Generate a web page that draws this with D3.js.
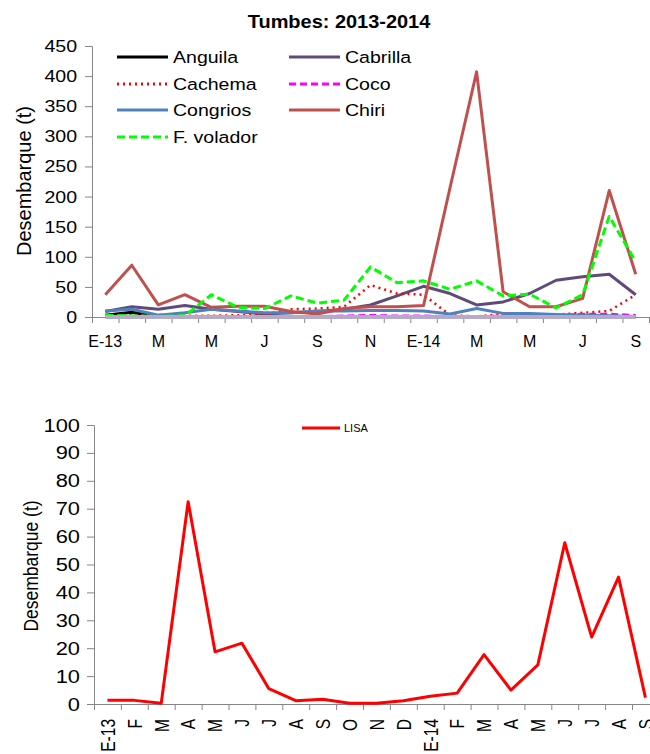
<!DOCTYPE html>
<html>
<head>
<meta charset="utf-8">
<script src="https://cdn.jsdelivr.net/npm/d3@7"></script>
<style>
  body { margin: 0; background: #fff; }
  text { font-family: "Liberation Sans", Arial, sans-serif; fill: #000; }
</style>
</head>
<body>
<script>
// Meses ene-2013 a set-2014
const meses = ["E-13","F","M","A","M","J","J","A","S","O","N","D","E-14","F","M","A","M","J","J","A","S"];

// Desembarque (t) por especie - Tumbes
const anguila  = [3, 8, 1, 0, 0, 0, 0, 0, 0, 0, 0, 0, 0, 0, 0, 0, 0, 0, 0, 0, 0];
const cabrilla = [9, 17, 13, 19, 13, 9, 5, 7, 9, 13, 20, 35, 51, 39, 20, 25, 39, 61, 67, 71, 37];
const cachema  = [3, 3, 4, 2, 2, 3, 4, 13, 14, 17, 53, 39, 37, 3, 1, 5, 4, 4, 7, 10, 37];
const coco     = [1, 1, 1, 1, 1, 1, 1, 1, 1, 2, 3, 2, 2, 1, 1, 2, 2, 3, 5, 5, 3];
const congrios = [10, 13, 3, 7, 13, 10, 7, 7, 10, 10, 11, 11, 10, 5, 14, 6, 6, 4, 3, 2, 1];
const chiri    = [37, 86, 20, 37, 16, 18, 18, 9, 5, 14, 17, 17, 19, 215, 407, 42, 17, 17, 31, 210, 71];
const volador  = [3, 2, 1, 2, 37, 16, 14, 35, 23, 28, 83, 57, 60, 46, 60, 35, 38, 15, 37, 167, 92];
const otros    = [0, 0, 0, 0, 0, 0, 0, 0, 0, 0, 0, 0, 0, 0, 0, 0, 0, 0, 0, 0, 0];

const lisa = [1.3, 1.3, 0.3, 72.5, 18.7, 21.8, 5.5, 1.2, 1.7, 0.3, 0.3, 1.2, 2.8, 3.9, 17.7, 5, 14, 57.8, 24, 45.5, 2.3];

const ticksTop = [0, 50, 100, 150, 200, 250, 300, 350, 400, 450];
const ticksBot = [0, 10, 20, 30, 40, 50, 60, 70, 80, 90, 100];

const series = [
  { name: "Anguila",    values: anguila,  color: "#000000", dash: null,  width: 3 },
  { name: "Cabrilla",   values: cabrilla, color: "#604A7B", dash: null,  width: 3 },
  { name: "Cachema",    values: cachema,  color: "#FF0000", dash: "2,4", width: 2.5 },
  { name: "Coco",       values: coco,     color: "#FF00FF", dash: "7,4", width: 2.5 },
  { name: "Congrios",   values: congrios, color: "#4F81BD", dash: null,  width: 3 },
  { name: "Chiri",      values: chiri,    color: "#C0504D", dash: null,  width: 3 },
  { name: "F. volador", values: volador,  color: "#00FF00", dash: "8,4", width: 3 },
  { name: null,         values: otros,    color: "#B3ABC9", dash: null,  width: 4 }
];

const axisColor = "#868686";

const svg = d3.select("body").append("svg")
    .attr("width", 650)
    .attr("height", 754);

// the source picture is a bit wider than tall, stretch text to match
function stretched(parent, x, y, sx, size) {
  return parent.append("text")
      .attr("transform", "translate(" + x + "," + y + ") scale(" + sx + ",1)")
      .style("font-size", size + "px");
}

// ---------- Top chart ----------
const box1 = { left: 92, right: 649, top: 46, bottom: 317 };
const idx = d3.range(meses.length);

const x1 = d3.scaleBand().domain(idx).range([box1.left, box1.right]).padding(0);
const x1edge = d3.scaleLinear().domain([0, meses.length]).range([box1.left, box1.right]);
const y1 = d3.scaleLinear().domain([0, 450]).range([box1.bottom, box1.top]);

stretched(svg, 339, 28, 1.05, 19)
    .attr("text-anchor", "middle")
    .style("font-weight", "bold")
    .text("Tumbes: 2013-2014");

svg.append("g")
    .attr("transform", "translate(" + box1.left + ",0)")
    .call(d3.axisLeft(y1).tickValues(ticksTop).tickSize(7))
    .selectAll("text")
    .style("font-size", "17px")
    .attr("x", -15 / 1.15)
    .attr("transform", "scale(1.15,1)");

// boundary ticks
svg.append("g")
    .attr("transform", "translate(0," + box1.bottom + ")")
    .call(d3.axisBottom(x1edge).tickValues(d3.range(meses.length + 1)).tickSize(6).tickFormat(""));

// labels every other month
svg.append("g")
    .attr("transform", "translate(0," + box1.bottom + ")")
    .call(d3.axisBottom(x1).tickSize(0).tickPadding(19).tickFormat(i => i % 2 === 0 ? meses[i] : ""))
    .call(g => g.select(".domain").remove())
    .selectAll("text").style("font-size", "16px");

svg.selectAll(".domain, .tick line").attr("stroke", axisColor);

const line1 = d3.line()
    .x((d, i) => x1(i) + x1.bandwidth() / 2)
    .y(d => y1(d));

svg.append("g").selectAll("path")
  .data(series)
  .join("path")
    .attr("fill", "none")
    .attr("stroke", d => d.color)
    .attr("stroke-width", d => d.width)
    .attr("stroke-dasharray", d => d.dash)
    .attr("stroke-linejoin", "round")
    .attr("d", d => line1(d.values));

svg.append("text")
    .attr("transform", "translate(24,181) rotate(-90)")
    .attr("text-anchor", "middle")
    .attr("dominant-baseline", "central")
    .style("font-size", "20px")
    .text("Desembarque (t)");

// legend
const legCols = [117, 289];
const legRows = [57, 84, 110, 137];
const leg = svg.append("g").selectAll("g")
  .data(series.filter(s => s.name))
  .join("g")
    .attr("transform", (d, i) => "translate(" + legCols[i % 2] + "," + legRows[Math.floor(i / 2)] + ")");
leg.append("line")
    .attr("x1", 0).attr("x2", 51)
    .attr("stroke", d => d.color)
    .attr("stroke-width", 3)
    .attr("stroke-dasharray", d => d.dash);
leg.each(function(d) {
  stretched(d3.select(this), 56, 6, 1.15, 17).text(d.name);
});

// ---------- Bottom chart ----------
const box2 = { left: 94, top: 425, bottom: 704, step: 26.9 };

const x2 = d3.scaleBand().domain(idx).range([box2.left, box2.left + box2.step * meses.length]).padding(0);
const x2edge = d3.scaleLinear().domain([0, meses.length]).range([box2.left, box2.left + box2.step * meses.length]);
const y2 = d3.scaleLinear().domain([0, 100]).range([box2.bottom, box2.top]);

svg.append("g")
    .attr("transform", "translate(" + box2.left + ",0)")
    .call(d3.axisLeft(y2).tickValues(ticksBot).tickSize(7))
    .selectAll("text")
    .style("font-size", "19px")
    .attr("x", -14 / 1.15)
    .attr("transform", "scale(1.15,1)");

svg.append("g")
    .attr("transform", "translate(0," + box2.bottom + ")")
    .call(d3.axisBottom(x2edge).tickValues(d3.range(meses.length + 1)).tickSize(6).tickFormat(""));

svg.append("g")
    .attr("transform", "translate(0," + box2.bottom + ")")
    .call(d3.axisBottom(x2).tickSize(0).tickFormat(i => meses[i]))
    .call(g => g.select(".domain").remove())
    .selectAll("text")
    .style("font-size", "15.5px")
    .attr("text-anchor", "end")
    .attr("transform", "scale(1.3,1) rotate(-90)")
    .attr("x", -15)
    .attr("y", 0)
    .attr("dy", "0.36em");

svg.selectAll(".domain, .tick line").attr("stroke", axisColor);

const line2 = d3.line()
    .x((d, i) => x2(i) + x2.bandwidth() / 2)
    .y(d => y2(d));

svg.append("path")
    .datum(lisa)
    .attr("fill", "none")
    .attr("stroke", "#FF0000")
    .attr("stroke-width", 3)
    .attr("stroke-linejoin", "round")
    .attr("d", line2);

svg.append("text")
    .attr("transform", "translate(31,566) rotate(-90) scale(1,1.2)")
    .attr("text-anchor", "middle")
    .attr("dominant-baseline", "central")
    .style("font-size", "17.5px")
    .text("Desembarque (t)");

const leg2 = svg.append("g").attr("transform", "translate(302,428)");
leg2.append("line").attr("x1", 0).attr("x2", 38).attr("stroke", "#FF0000").attr("stroke-width", 3);
leg2.append("text").attr("x", 42).attr("dy", "0.35em").style("font-size", "11px").text("LISA");
</script>
</body>
</html>
